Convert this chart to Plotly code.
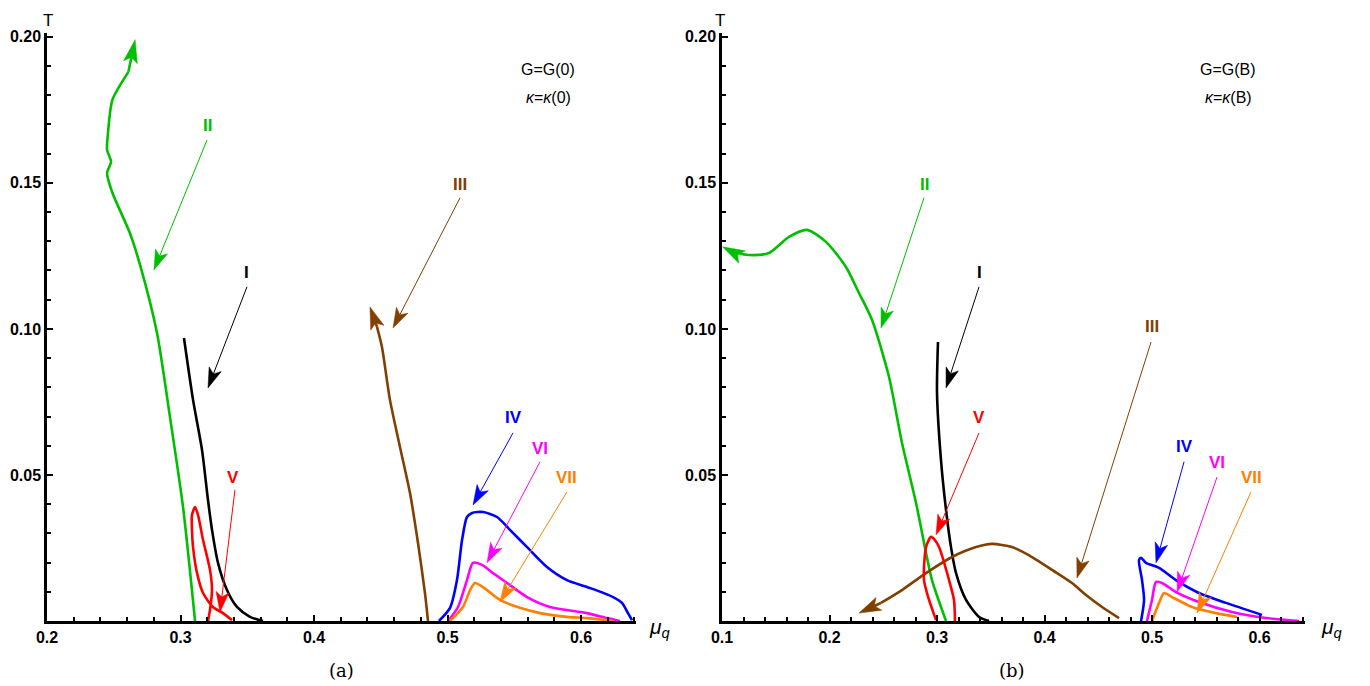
import math
import plotly.graph_objects as go

# ---------------- data: panel (a)  G=G(0), kappa=kappa(0) ----------------
a_I_x = [0.3026, 0.3094, 0.3161, 0.3206, 0.3236, 0.3281, 0.3348, 0.3423, 0.3520, 0.3618]
a_I_y = [0.0969, 0.0757, 0.0586, 0.0414, 0.0312, 0.0199, 0.0106, 0.0048, 0.0014, 0.0]

a_II_x = [0.3109, 0.3019, 0.2921, 0.2824, 0.2697, 0.2620, 0.2490, 0.2450, 0.2480, 0.2450, 0.2457, 0.2490, 0.2610]
a_II_y = [0.0, 0.0390, 0.0699, 0.0986, 0.1219, 0.1329, 0.1466, 0.1534, 0.1572, 0.1613, 0.1671, 0.1784, 0.1880]
a_II_tip = (0.2660, 0.1990)

a_III_x = [0.4854, 0.4831, 0.4779, 0.4719, 0.4644, 0.4569, 0.4509, 0.4472]
a_III_y = [0.0, 0.0096, 0.0267, 0.0438, 0.0596, 0.0757, 0.0938, 0.1007]
a_III_tip = (0.4419, 0.1075)

a_IV_x = [0.4936, 0.5019, 0.5071, 0.5109, 0.5146, 0.5184, 0.5266, 0.5371, 0.5468, 0.5596, 0.5745, 0.5895, 0.6067, 0.6240, 0.6307, 0.6352, 0.6382]
a_IV_y = [0.0, 0.0045, 0.0140, 0.0277, 0.0356, 0.0370, 0.0373, 0.0356, 0.0312, 0.0253, 0.0185, 0.0140, 0.0113, 0.0082, 0.0062, 0.0027, 0.0003]

a_V_x = [0.3206, 0.3221, 0.3236, 0.3221, 0.3169, 0.3131, 0.3109, 0.3086, 0.3086, 0.3094, 0.3124, 0.3169, 0.3243, 0.3318, 0.3386]
a_V_y = [0.0, 0.0038, 0.0106, 0.0175, 0.0277, 0.0363, 0.0390, 0.0363, 0.0312, 0.0253, 0.0164, 0.0096, 0.0048, 0.0027, 0.0003]

a_VI_x = [0.5004, 0.5079, 0.5146, 0.5191, 0.5258, 0.5341, 0.5446, 0.5596, 0.5768, 0.6045, 0.6195, 0.6292]
a_VI_y = [0.0, 0.0048, 0.0140, 0.0199, 0.0192, 0.0164, 0.0130, 0.0082, 0.0048, 0.0027, 0.0010, 0.0]

a_VII_x = [0.5019, 0.5116, 0.5169, 0.5206, 0.5266, 0.5393, 0.5543, 0.5693, 0.5895, 0.6045, 0.6240]
a_VII_y = [0.0, 0.0048, 0.0106, 0.0130, 0.0116, 0.0072, 0.0045, 0.0027, 0.0014, 0.0010, 0.0]

# label: (text, text_x, text_y, start_x, start_y, tip_x, tip_y)
a_labels = [
    ("II", 0.3199, 0.1695, 0.3199, 0.1647, 0.2801, 0.1202),
    ("I", 0.3498, 0.1192, 0.3498, 0.1144, 0.3206, 0.0798),
    ("III", 0.5094, 0.1493, 0.5094, 0.1449, 0.4592, 0.1003),
    ("V", 0.3393, 0.0490, 0.3408, 0.0449, 0.3296, 0.0031),
    ("IV", 0.5491, 0.0695, 0.5491, 0.0644, 0.5191, 0.0397),
    ("VI", 0.5693, 0.0592, 0.5693, 0.0545, 0.5296, 0.0199),
    ("VII", 0.5895, 0.0490, 0.5895, 0.0442, 0.5393, 0.0065),
]

# ---------------- data: panel (b)  G=G(B), kappa=kappa(B) ----------------
b_I_x = [0.3009, 0.3000, 0.3037, 0.3084, 0.3130, 0.3177, 0.3270, 0.3391, 0.3484]
b_I_y = [0.0955, 0.0781, 0.0551, 0.0380, 0.0253, 0.0164, 0.0072, 0.0014, 0.0]

b_II_x = [0.3084, 0.2953, 0.2898, 0.2805, 0.2674, 0.2553, 0.2395, 0.2274, 0.2153, 0.1967, 0.1791, 0.1623, 0.1437, 0.1251, 0.1093]
b_II_y = [0.0, 0.0140, 0.0233, 0.0404, 0.0610, 0.0836, 0.1031, 0.1123, 0.1212, 0.1298, 0.1339, 0.1315, 0.1260, 0.1253, 0.1264]
b_II_tip = (0.1005, 0.1281)

b_III_x = [0.4693, 0.4535, 0.4386, 0.4256, 0.4070, 0.3884, 0.3698, 0.3512, 0.3363, 0.3140, 0.2898, 0.2674, 0.2479]
b_III_y = [0.0010, 0.0048, 0.0089, 0.0130, 0.0175, 0.0219, 0.0253, 0.0264, 0.0253, 0.0219, 0.0164, 0.0106, 0.0062]
b_III_tip = (0.2274, 0.0027)

b_IV_x = [0.4898, 0.4926, 0.4907, 0.4879, 0.4898, 0.4944, 0.5065, 0.5223, 0.5437, 0.5688, 0.6023]
b_IV_y = [0.0, 0.0072, 0.0140, 0.0209, 0.0216, 0.0199, 0.0182, 0.0140, 0.0096, 0.0062, 0.0021]

b_V_x = [0.2991, 0.2926, 0.2879, 0.2898, 0.2944, 0.2981, 0.3019, 0.3112, 0.3158, 0.3167]
b_V_y = [0.0003, 0.0072, 0.0140, 0.0253, 0.0288, 0.0277, 0.0253, 0.0140, 0.0072, 0.0]

b_VI_x = [0.4953, 0.5000, 0.5037, 0.5093, 0.5223, 0.5437, 0.5744, 0.6060, 0.6367]
b_VI_y = [0.0, 0.0072, 0.0134, 0.0130, 0.0099, 0.0065, 0.0031, 0.0010, 0.0]

b_VII_x = [0.5000, 0.5065, 0.5112, 0.5186, 0.5372, 0.5595, 0.5791]
b_VII_y = [0.0, 0.0062, 0.0096, 0.0082, 0.0048, 0.0027, 0.0014]

b_labels = [
    ("II", 0.2879, 0.1493, 0.2879, 0.1449, 0.2479, 0.1003),
    ("I", 0.3391, 0.1192, 0.3391, 0.1144, 0.3084, 0.0798),
    ("V", 0.3391, 0.0695, 0.3391, 0.0644, 0.2991, 0.0295),
    ("III", 0.5000, 0.1007, 0.4991, 0.0955, 0.4302, 0.0147),
    ("IV", 0.5298, 0.0596, 0.5298, 0.0545, 0.5037, 0.0199),
    ("VI", 0.5605, 0.0541, 0.5605, 0.0493, 0.5233, 0.0099),
    ("VII", 0.5921, 0.0490, 0.5921, 0.0442, 0.5419, 0.0027),
]

x_ticks_a = [0.2, 0.3, 0.4, 0.5, 0.6]
x_ticks_b = [0.1, 0.2, 0.3, 0.4, 0.5, 0.6]
y_ticks = [0.05, 0.10, 0.15, 0.20]
y_ticktext = ["0.05", "0.10", "0.15", "0.20"]

colors = {
    "I": "black",
    "II": "rgb(0,190,0)",
    "III": "rgb(128,64,0)",
    "IV": "rgb(0,0,255)",
    "V": "rgb(255,0,0)",
    "VI": "rgb(255,0,255)",
    "VII": "rgb(255,128,0)",
}

# ---------------- layout geometry ----------------
W, H = 1362, 678          # page adds an 8px body margin
OFF = 8


def px(x):
    return (x - OFF) / W


def py(y):
    return 1 - (y - OFF) / H


xa_dom = [px(47), px(636)]
xb_dom = [px(722), px(1305)]
y_dom = [py(621), py(33)]
xa_rng = [0.2, 0.6412]
xb_rng = [0.1, 0.6423]
y_rng = [0, 0.2013]

# pixels per data unit (for arrowhead geometry)
kxa = (xa_dom[1] - xa_dom[0]) * W / (xa_rng[1] - xa_rng[0])
kxb = (xb_dom[1] - xb_dom[0]) * W / (xb_rng[1] - xb_rng[0])
ky = (y_dom[1] - y_dom[0]) * H / (y_rng[1] - y_rng[0])

LW = 2.6
fig = go.Figure()


def add_curve(xs, ys, name, xa, ya):
    fig.add_trace(go.Scatter(
        x=xs, y=ys, mode="lines", showlegend=False, xaxis=xa, yaxis=ya,
        line=dict(color=colors[name], width=LW, shape="spline", smoothing=0.7),
        hoverinfo="skip"))


def add_arrow(sx, sy, tx, ty, color, lw, xa, ya, kx, L=20.0, hw=6.5, notch=5.0):
    dxp = (tx - sx) * kx
    dyp = (ty - sy) * ky
    d = math.hypot(dxp, dyp)
    ux, uy = dxp / d, dyp / d
    nx, ny = -uy, ux

    def back(off_along, off_perp):
        return (tx + (-off_along * ux + off_perp * nx) / kx,
                ty + (-off_along * uy + off_perp * ny) / ky)

    left = back(L, hw)
    right = back(L, -hw)
    nt = back(L - notch, 0)
    fig.add_trace(go.Scatter(x=[sx, nt[0]], y=[sy, nt[1]], mode="lines", showlegend=False,
                             xaxis=xa, yaxis=ya, hoverinfo="skip",
                             line=dict(color=color, width=lw)))
    fig.add_trace(go.Scatter(x=[tx, left[0], nt[0], right[0], tx],
                             y=[ty, left[1], nt[1], right[1], ty],
                             mode="lines", fill="toself", fillcolor=color, showlegend=False,
                             xaxis=xa, yaxis=ya, hoverinfo="skip",
                             line=dict(color=color, width=0.5)))


add_curve(a_I_x, a_I_y, "I", "x", "y")
add_curve(a_II_x, a_II_y, "II", "x", "y")
add_curve(a_III_x, a_III_y, "III", "x", "y")
add_curve(a_IV_x, a_IV_y, "IV", "x", "y")
add_curve(a_V_x, a_V_y, "V", "x", "y")
add_curve(a_VI_x, a_VI_y, "VI", "x", "y")
add_curve(a_VII_x, a_VII_y, "VII", "x", "y")

add_curve(b_I_x, b_I_y, "I", "x2", "y2")
add_curve(b_II_x, b_II_y, "II", "x2", "y2")
add_curve(b_III_x, b_III_y, "III", "x2", "y2")
add_curve(b_IV_x, b_IV_y, "IV", "x2", "y2")
add_curve(b_V_x, b_V_y, "V", "x2", "y2")
add_curve(b_VI_x, b_VI_y, "VI", "x2", "y2")
add_curve(b_VII_x, b_VII_y, "VII", "x2", "y2")

# arrows at the curve ends
add_arrow(a_II_x[-1], a_II_y[-1], a_II_tip[0], a_II_tip[1], colors["II"], LW, "x", "y", kxa, L=23, hw=7)
add_arrow(a_III_x[-1], a_III_y[-1], a_III_tip[0], a_III_tip[1], colors["III"], LW, "x", "y", kxa, L=22, hw=7)
add_arrow(b_II_x[-1], b_II_y[-1], b_II_tip[0], b_II_tip[1], colors["II"], LW, "x2", "y2", kxb, L=22, hw=7)
add_arrow(b_III_x[-1], b_III_y[-1], b_III_tip[0], b_III_tip[1], colors["III"], LW, "x2", "y2", kxb, L=22, hw=7)

annotations = []


def label_arrows(labels, xr, yr, kx):
    for (t, tx, ty, sx, sy, tipx, tipy) in labels:
        annotations.append(dict(
            x=tx, y=ty, xref=xr, yref=yr, text=t, showarrow=False,
            xanchor="center", yanchor="middle",
            font=dict(family="Liberation Sans", size=17, color=colors[t], weight="bold")))
        add_arrow(sx, sy, tipx, tipy, colors[t], 1.0, xr, yr, kx)


label_arrows(a_labels, "x", "y", kxa)
label_arrows(b_labels, "x2", "y2", kxb)


def paper_text(cx, cy, text, font):
    annotations.append(dict(x=px(cx), y=py(cy), xref="paper", yref="paper", text=text,
                            showarrow=False, xanchor="center", yanchor="middle", font=font))


txtfont = dict(family="Liberation Sans", size=16, color="black")
for (cx, lab) in [(548, "G=G(0)"), (1228, "G=G(B)")]:
    paper_text(cx, 70, lab, txtfont)
for (cx, lab) in [(548, "<i>κ</i>=<i>κ</i>(0)"), (1228, "<i>κ</i>=<i>κ</i>(B)")]:
    paper_text(cx, 98, lab, txtfont)

# axis titles
for cx in [48, 720]:
    paper_text(cx, 20, "T", dict(family="Liberation Sans", size=17, color="black"))
for cx in [660, 1332]:
    paper_text(cx, 628, "<i>μ</i><sub><i>q</i></sub>", dict(family="Liberation Sans", size=21, color="black"))
# captions
for cx, lab in [(341, "(a)"), (1012, "(b)")]:
    paper_text(cx, 670, lab, dict(family="DejaVu Serif", size=18, color="black"))

tickfont = dict(family="Liberation Sans", size=16, color="black", weight="bold")
common_x = dict(showline=True, linewidth=2.5, linecolor="black", showgrid=False, zeroline=False,
                automargin=False,
                ticks="inside", ticklen=6, tickwidth=2, tickcolor="black", tickfont=tickfont,
                minor=dict(ticks="inside", ticklen=4, tickwidth=1.5, tickcolor="black",
                           tickmode="linear", tick0=0, dtick=0.02))
common_y = dict(showline=True, linewidth=2.5, linecolor="black", showgrid=False, zeroline=False,
                automargin=False,
                ticks="inside", ticklen=6, tickwidth=2, tickcolor="black", tickfont=tickfont,
                tickmode="array", tickvals=y_ticks, ticktext=y_ticktext, range=y_rng,
                domain=y_dom,
                minor=dict(ticks="inside", ticklen=4, tickwidth=1.5, tickcolor="black",
                           tickmode="linear", tick0=0, dtick=0.01))

fig.update_layout(
    template="none",
    width=W, height=H, autosize=False,
    margin=dict(l=0, r=0, t=0, b=0, pad=0, autoexpand=False),
    paper_bgcolor="white", plot_bgcolor="white",
    xaxis=dict(domain=xa_dom, range=xa_rng, anchor="y",
               tickmode="array", tickvals=x_ticks_a, ticktext=[f"{v:.1f}" for v in x_ticks_a], **common_x),
    yaxis=dict(anchor="x", **common_y),
    xaxis2=dict(domain=xb_dom, range=xb_rng, anchor="y2",
                tickmode="array", tickvals=x_ticks_b, ticktext=[f"{v:.1f}" for v in x_ticks_b], **common_x),
    yaxis2=dict(anchor="x2", **common_y),
    annotations=annotations,
    showlegend=False,
)

fig.write_html("out.html")
